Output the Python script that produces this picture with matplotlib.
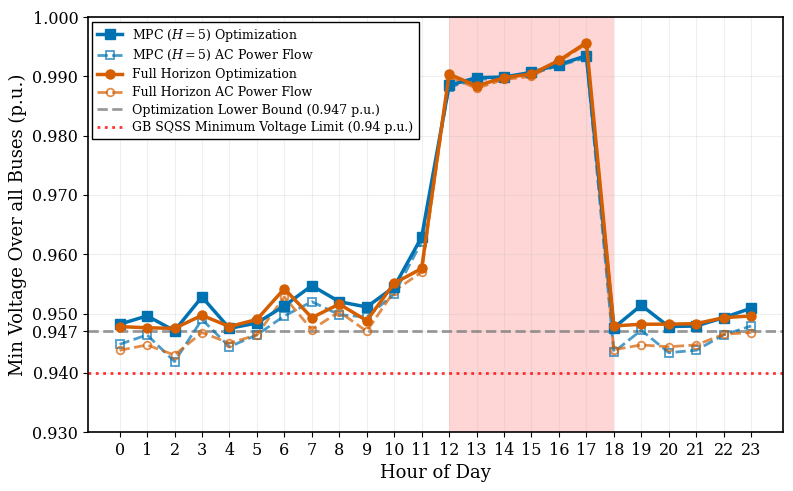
import matplotlib
import matplotlib.pyplot as plt

matplotlib.use('Agg')

plt.rcParams['font.family'] = 'DejaVu Serif'
plt.rcParams['mathtext.fontset'] = 'dejavuserif'

hours = list(range(24))

mpc_opt = [0.9482, 0.9496, 0.9471, 0.9528, 0.9475, 0.9484, 0.9513, 0.9547, 0.9520, 0.9511,
           0.9545, 0.9629, 0.9885, 0.9898, 0.9899, 0.9907, 0.9920, 0.9935,
           0.9476, 0.9514, 0.9478, 0.9479, 0.9493, 0.9509]
mpc_ac = [0.9448, 0.9464, 0.9419, 0.9490, 0.9444, 0.9464, 0.9496, 0.9520, 0.9498, 0.9494,
          0.9533, 0.9621, 0.9882, 0.9895, 0.9897, 0.9905, 0.9918, 0.9932,
          0.9435, 0.9472, 0.9434, 0.9438, 0.9464, 0.9479]
full_opt = [0.9478, 0.9476, 0.9475, 0.9497, 0.9478, 0.9490, 0.9542, 0.9493, 0.9516, 0.9488,
            0.9551, 0.9576, 0.9904, 0.9884, 0.9898, 0.9904, 0.9927, 0.9957,
            0.9479, 0.9482, 0.9482, 0.9483, 0.9493, 0.9496]
full_ac = [0.9438, 0.9447, 0.9430, 0.9468, 0.9450, 0.9464, 0.9528, 0.9473, 0.9503, 0.9470,
           0.9538, 0.9570, 0.9900, 0.9880, 0.9895, 0.9900, 0.9925, 0.9955,
           0.9439, 0.9447, 0.9444, 0.9447, 0.9465, 0.9468]

lower_bound = 0.947
sqss_limit = 0.94
peak_start, peak_end = 12, 18
yticks = [0.930, 0.940, 0.947, 0.950, 0.960, 0.970, 0.980, 0.990, 1.000]

blue = '#0072B2'
orange = '#D55E00'

fig, ax = plt.subplots(figsize=(7.93, 4.91), dpi=100)
fig.subplots_adjust(left=0.111, right=0.987, top=0.965, bottom=0.12)

ax.axvspan(peak_start, peak_end, color='#ff9999', alpha=0.4, lw=0)

ax.plot(hours, mpc_opt, '-s', color=blue, lw=2.5, ms=6.5, label=r'MPC ($H=5$) Optimization', zorder=4)
ax.plot(hours, mpc_ac, '--s', color=blue, alpha=0.7, lw=2, ms=5.5, mfc='none', mew=1.3,
        label=r'MPC ($H=5$) AC Power Flow', zorder=3)
ax.plot(hours, full_opt, '-o', color=orange, lw=2.5, ms=6.5, label='Full Horizon Optimization', zorder=5)
ax.plot(hours, full_ac, '--o', color=orange, alpha=0.7, lw=2, ms=5.5, mfc='none', mew=1.3,
        label='Full Horizon AC Power Flow', zorder=3)

ax.axhline(lower_bound, color='grey', ls='--', lw=2, alpha=0.8,
           label='Optimization Lower Bound (0.947 p.u.)', zorder=2)
ax.axhline(sqss_limit, color='red', ls=':', lw=2, alpha=0.8,
           label='GB SQSS Minimum Voltage Limit (0.94 p.u.)', zorder=2)

ax.set_xticks(hours)
ax.set_yticks(yticks)
ax.set_yticklabels([f'{t:.3f}' for t in yticks])
ax.set_ylim(0.93, 1.0)
ax.tick_params(labelsize=11.5)
ax.grid(True, alpha=0.2)

for s in ax.spines.values():
    s.set_linewidth(1.2)

ax.set_xlabel('Hour of Day', fontsize=13)
ax.set_ylabel('Min Voltage Over all Buses (p.u.)', fontsize=13)

leg = ax.legend(loc='upper left', fontsize=9, fancybox=False, framealpha=1,
                edgecolor='black', borderaxespad=0.35, labelspacing=0.38)
leg.get_frame().set_linewidth(1.0)

plt.savefig('out.png', dpi=100)
plt.close()
